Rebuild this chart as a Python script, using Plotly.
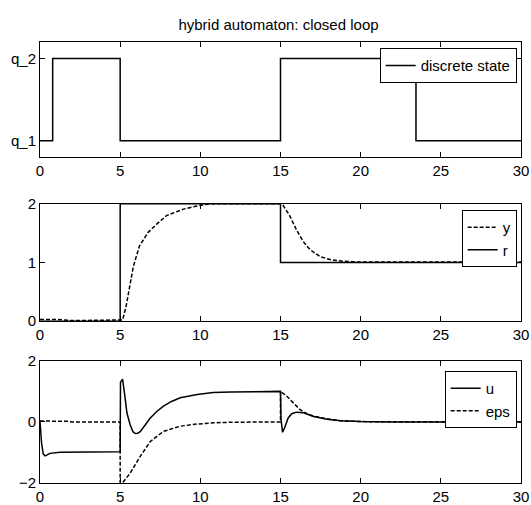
import plotly.graph_objects as go

# ---------------- data ----------------
x_ticks = [0, 5, 10, 15, 20, 25, 30]

# discrete state (1 = q_1, 2 = q_2)
t_q = [0, 0.79, 5, 15, 23.45, 30]
q = [1, 2, 1, 2, 1, 1]
q_tickvals = [1, 2]
q_ticktext = ["q_1", "q_2"]

# reference r (step)
t_r = [0, 5, 15, 30]
r = [0, 2, 1, 1]

# output y
t_y = [0, 1, 2, 3, 5, 5.15, 5.36, 5.57, 5.82, 6.2, 6.73, 7.26, 7.89, 8.95, 9.9,
       10.6, 12, 15, 15.15, 15.57, 15.99, 16.41, 16.84, 17.47, 18.1, 18.95, 19.8, 22, 30]
y = [0.03, 0.03, 0.01, 0.01, 0.01, 0.02, 0.24, 0.53, 0.93, 1.28, 1.51, 1.65, 1.80, 1.91, 1.97,
     2.0, 2.0, 2.0, 1.98, 1.80, 1.56, 1.36, 1.22, 1.10, 1.05, 1.02, 1.01, 1.01, 1.01]

# control u
t_u = [0, 0.1, 0.2, 0.31, 0.45, 0.62, 1.25, 2.5, 5, 5.02, 5.15, 5.28, 5.42, 5.62, 5.8, 5.94,
       6.1, 6.25, 6.5, 6.88, 7.3, 7.7, 8.2, 8.75, 9.8, 10.8, 11.9, 13, 15, 15.03, 15.13, 15.25,
       15.48, 15.7, 16.0, 16.43, 16.64, 17.06, 17.9, 18.74, 20, 22, 30]
u = [0, -0.7, -1.05, -1.11, -1.08, -1.03, -0.99, -0.98, -0.98, 1.3, 1.40, 0.9, 0.3, -0.09, -0.32, -0.38,
     -0.37, -0.32, -0.15, 0.13, 0.35, 0.52, 0.67, 0.79, 0.9, 0.96, 0.98, 0.99, 1.0, 0.1, -0.34, -0.2,
     0.13, 0.27, 0.32, 0.30, 0.26, 0.18, 0.09, 0.04, 0.01, 0.0, 0.0]

# error eps
t_e = [0, 1, 1.7, 2, 5, 5, 5.2, 5.62, 6.25, 6.88, 7.7, 8.75, 9.8, 10.8, 12, 15, 15,
       15.38, 15.8, 16.2, 16.64, 17.06, 17.9, 18.74, 20, 30]
eps = [0.03, 0.03, 0.02, 0.0, 0.0, -2.0, -1.96, -1.68, -1.13, -0.64, -0.31, -0.14, -0.07, -0.03, -0.01, 0.0, 1.0,
       0.85, 0.63, 0.41, 0.27, 0.19, 0.1, 0.04, 0.01, 0.0]

# ---------------- figure ----------------
FONT = "Liberation Sans, Arial, sans-serif"
line_solid = dict(color="black", width=1.5)
line_dash = dict(color="black", width=1.5, dash="4px,2px")

fig = go.Figure()
fig.add_trace(go.Scatter(x=t_q, y=q, mode="lines", line=line_solid, line_shape="hv",
                         name="discrete state", xaxis="x", yaxis="y", legend="legend"))
fig.add_trace(go.Scatter(x=t_y, y=y, mode="lines", line=line_dash,
                         name="y", xaxis="x2", yaxis="y2", legend="legend2"))
fig.add_trace(go.Scatter(x=t_r, y=r, mode="lines", line=line_solid, line_shape="hv",
                         name="r", xaxis="x2", yaxis="y2", legend="legend2"))
fig.add_trace(go.Scatter(x=t_u, y=u, mode="lines", line=line_solid,
                         name="u", xaxis="x3", yaxis="y3", legend="legend3"))
fig.add_trace(go.Scatter(x=t_e, y=eps, mode="lines", line=line_dash,
                         name="eps", xaxis="x3", yaxis="y3", legend="legend3"))

ax = dict(showline=True, linecolor="black", linewidth=1, mirror="allticks",
          ticks="inside", ticklen=5, tickcolor="black", showgrid=False, zeroline=False,
          automargin=False, ticklabeloverflow="allow",
          tickfont=dict(family=FONT, size=15, color="black"))

xax = dict(ax, range=[0, 30], tickvals=x_ticks)
leg = dict(bgcolor="white", bordercolor="black", borderwidth=1, xanchor="right", yanchor="top",
           font=dict(family=FONT, size=15, color="black"), itemclick=False, tracegroupgap=0)

fig.update_layout(
    template="none",
    width=531, height=505,
    margin=dict(l=40, r=10, t=42, b=22, autoexpand=False),
    paper_bgcolor="white", plot_bgcolor="white",
    showlegend=True,
    title=dict(text="hybrid automaton: closed loop", x=0.5245, xanchor="center",
               y=1 - 25 / 505, yanchor="middle", yref="container",
               font=dict(family=FONT, size=15, color="black")),
    xaxis=dict(xax, domain=[0, 1], anchor="y"),
    yaxis=dict(ax, domain=[0.739, 1.0], range=[0.8, 2.2], tickvals=q_tickvals, ticktext=q_ticktext, anchor="x"),
    xaxis2=dict(xax, domain=[0, 1], anchor="y2"),
    yaxis2=dict(ax, domain=[0.367, 0.633], range=[0, 2], tickvals=[0, 1, 2], anchor="x2"),
    xaxis3=dict(xax, domain=[0, 1], anchor="y3"),
    yaxis3=dict(ax, domain=[0, 0.277], range=[-2, 2], tickvals=[-2, 0, 2], anchor="x3"),
    legend=dict(leg, x=0.991, y=0.986),
    legend2=dict(leg, x=0.991, y=0.619),
    legend3=dict(leg, x=0.991, y=0.254),
)

fig.write_html("out.html", config={"displayModeBar": False},
               post_script="document.body.style.margin='0';document.body.style.overflow='hidden';")
